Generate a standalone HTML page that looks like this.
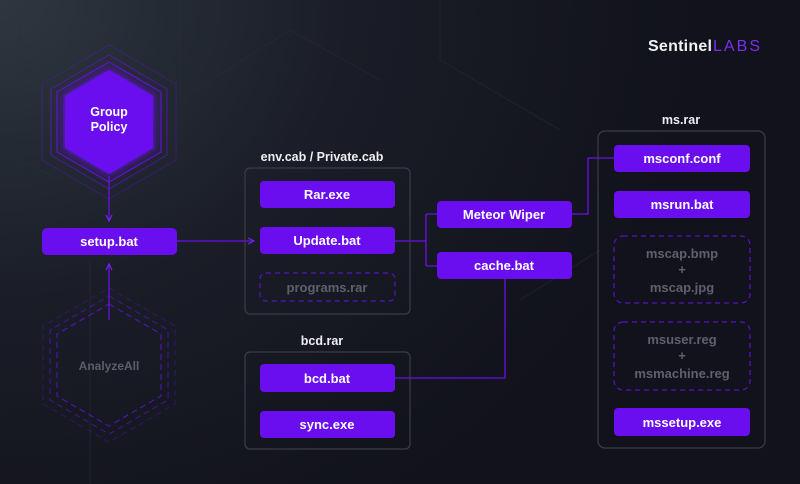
<!DOCTYPE html>
<html><head><meta charset="utf-8"><style>
html,body{margin:0;padding:0;width:800px;height:484px;overflow:hidden;background:#13141d}
svg{display:block}
text{font-family:"Liberation Sans",sans-serif;font-weight:bold}
</style></head><body>
<svg width="800" height="484" viewBox="0 0 800 484" xmlns="http://www.w3.org/2000/svg">
<defs>
<radialGradient id="bg" cx="0" cy="0" r="1" gradientUnits="userSpaceOnUse" gradientTransform="translate(0 0) scale(700 600)">
<stop offset="0" stop-color="#2e3740"/><stop offset="0.5" stop-color="#1a1d27"/><stop offset="1" stop-color="#11121b"/>
</radialGradient>
<filter id="glow" x="-50%" y="-50%" width="200%" height="200%"><feGaussianBlur stdDeviation="5"/></filter>
<marker id="ah" markerWidth="8" markerHeight="8" refX="7" refY="4" orient="auto" markerUnits="userSpaceOnUse"><path d="M1,1 L7,4 L1,7" fill="none" stroke="#7a1ff5" stroke-width="1.2"/></marker>
</defs>
<rect width="800" height="484" fill="url(#bg)"/>
<g stroke="#2a3039" stroke-width="1" fill="none" opacity="0.5">
<path d="M20,0 V125 L60,150"/><path d="M180,0 V100 L290,30 L380,80"/><path d="M0,150 L60,180"/>
<path d="M440,0 V60 L560,130"/><path d="M90,260 V484"/><path d="M520,300 L600,250"/>
</g>
<!-- Group Policy hex -->
<g fill="none" stroke="#6a10e8" stroke-width="1">
<polygon points="109,45 176,84 176,160 109,199 42,160 42,84" opacity="0.35"/>
<polygon points="109,55 167,89 167,155 109,189 51,155 51,89" opacity="0.6"/>
<polygon points="109,62 161,92 161,152 109,182 57,152 57,92"/>
</g>
<polygon points="109,68 155,95 155,149 109,176 63,149 63,95" fill="#6a10f0" filter="url(#glow)" opacity="0.8"/>
<polygon points="109,70 153,96 153,148 109,174 65,148 65,96" fill="#6a0ef0"/>
<text x="109" y="116" fill="#fff" font-size="12.5" text-anchor="middle">Group</text>
<text x="109" y="131" fill="#fff" font-size="12.5" text-anchor="middle">Policy</text>
<!-- AnalyzeAll hex -->
<g fill="none" stroke="#5a12c8" stroke-width="1" stroke-dasharray="6,4">
<polygon points="109,288 175,326 175,404 109,442 43,404 43,326" opacity="0.4"/>
<polygon points="109,296 168,330 168,400 109,434 50,400 50,330" opacity="0.7"/>
<polygon points="109,304 161,334 161,396 109,426 57,396 57,334"/>
</g>
<text x="109" y="370" fill="#5c5e6c" font-size="12" text-anchor="middle">AnalyzeAll</text>
<!-- connectors -->
<g stroke="#6a10e8" stroke-width="1.3" fill="none">
<line x1="109" y1="176" x2="109" y2="221" marker-end="url(#ah)"/>
<line x1="109" y1="320" x2="109" y2="264" marker-end="url(#ah)"/>
<line x1="177" y1="241" x2="254" y2="241" marker-end="url(#ah)"/>
<path d="M395,241 H426 M426,214 V266 M426,214 H437 M426,266 H437"/>
<path d="M395,378 H505 V279"/>
<path d="M572,214 H588 V158 H614"/>
</g>
<!-- containers -->
<g fill="none" stroke="#3a3d4a" stroke-width="1.2">
<rect x="245" y="168" width="165" height="146" rx="5"/>
<rect x="245" y="352" width="165" height="97" rx="5"/>
<rect x="598" y="131" width="167" height="317" rx="7"/>
</g>
<g fill="#eeeef2" font-size="12.5" text-anchor="middle">
<text x="322" y="161">env.cab / Private.cab</text>
<text x="322" y="345">bcd.rar</text>
<text x="681" y="124">ms.rar</text>
</g>
<!-- nodes -->
<g fill="#6a0ef0">
<rect x="42" y="228" width="135" height="27" rx="5"/>
<rect x="260" y="181" width="135" height="27" rx="4"/>
<rect x="260" y="227" width="135" height="27" rx="4"/>
<rect x="260" y="364" width="135" height="28" rx="4"/>
<rect x="260" y="411" width="135" height="27" rx="4"/>
<rect x="437" y="201" width="135" height="27" rx="4"/>
<rect x="437" y="252" width="135" height="27" rx="4"/>
<rect x="614" y="145" width="136" height="27" rx="4"/>
<rect x="614" y="191" width="136" height="27" rx="4"/>
<rect x="614" y="408" width="136" height="28" rx="4"/>
</g>
<g fill="none" stroke="#5a12c8" stroke-width="1.2" stroke-dasharray="5,4">
<rect x="260" y="273" width="135" height="28" rx="6"/>
<rect x="614" y="236" width="136" height="67" rx="9"/>
<rect x="614" y="322" width="136" height="68" rx="9"/>
</g>
<g fill="#fff" font-size="13" text-anchor="middle">
<text x="109" y="246">setup.bat</text>
<text x="327" y="199">Rar.exe</text>
<text x="327" y="245">Update.bat</text>
<text x="327" y="383">bcd.bat</text>
<text x="327" y="429">sync.exe</text>
<text x="504" y="219">Meteor Wiper</text>
<text x="504" y="270">cache.bat</text>
<text x="682" y="163">msconf.conf</text>
<text x="682" y="209">msrun.bat</text>
<text x="682" y="427">mssetup.exe</text>
</g>
<g fill="#5e606d" font-size="13" text-anchor="middle">
<text x="327" y="292">programs.rar</text>
<text x="682" y="258">mscap.bmp</text>
<text x="682" y="274">+</text>
<text x="682" y="292">mscap.jpg</text>
<text x="682" y="344">msuser.reg</text>
<text x="682" y="360">+</text>
<text x="682" y="378">msmachine.reg</text>
</g>
<text x="648" y="51" fill="#f2f2f4" font-size="16" textLength="64" style="font-weight:bold">Sentinel</text>
<text x="713" y="51" fill="#7a2ef0" font-size="16" textLength="47" style="font-weight:normal">LABS</text>
</svg>
</body></html>
